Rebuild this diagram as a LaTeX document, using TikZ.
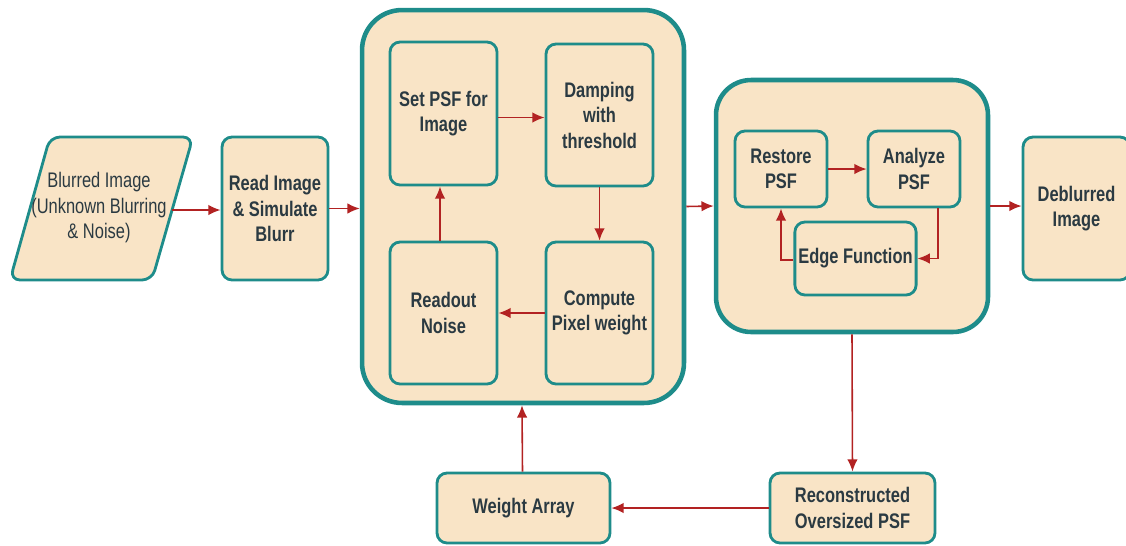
\documentclass[tikz,border=0pt]{standalone}
\usepackage{fontspec}
\setmainfont{Liberation Sans}[FakeStretch=0.78]
\usetikzlibrary{arrows.meta}
\definecolor{boxfill}{HTML}{F9E4C6}
\definecolor{boxline}{HTML}{1E8C8A}
\definecolor{arrowred}{HTML}{B22222}
\definecolor{txt}{HTML}{2B3A42}

\tikzset{
  box/.style={draw=boxline,fill=boxfill,line width=1.6pt,rounded corners=0.2cm,
    align=center,text=txt,font=\fontsize{12}{14.5}\selectfont\bfseries,inner sep=2pt},
  bigbox/.style={draw=boxline,fill=boxfill,line width=2.6pt},
  flow/.style={draw=arrowred,line width=0.9pt,-{Latex[length=7pt,width=6pt]}}
}

\begin{document}
\begin{tikzpicture}[x=0.02cm,y=-0.02cm]
  \useasboundingbox (0,0) rectangle (1126,545);
  % input parallelogram
  \draw[box] (10,280)--(50,137)--(193,137)--(152,280)--cycle;
  \node[text=txt,align=center,font=\fontsize{12}{14.5}\selectfont] (blurred) at (99,208)
    {Blurred Image\\(Unknown Blurring\\\& Noise)};
  \coordinate (blurredR) at (172,210);
  \node[box,minimum width=2.12cm,minimum height=2.86cm] (read) at (275,208.5)
    {Read Image\\\& Simulate\\Blurr};
  % first stage
  \node[bigbox,rounded corners=0.8cm,minimum width=6.44cm,minimum height=7.86cm] (stageA) at (523,206.5) {};
  \node[box,minimum width=2.14cm,minimum height=2.86cm] (setpsf) at (443.5,113.5) {Set PSF for\\Image};
  \node[box,minimum width=2.14cm,minimum height=2.84cm] (damp) at (599.5,115) {Damping\\with\\threshold};
  \node[box,minimum width=2.14cm,minimum height=2.84cm] (readout) at (443.5,313) {Readout\\Noise};
  \node[box,minimum width=2.14cm,minimum height=2.84cm] (pixw) at (599.5,313) {Compute\\Pixel weight};
  % second stage
  \node[bigbox,rounded corners=0.7cm,minimum width=5.44cm,minimum height=5.04cm] (stageB) at (852,206) {};
  \node[box,minimum width=1.84cm,minimum height=1.52cm] (restore) at (781,169) {Restore\\PSF};
  \node[box,minimum width=1.84cm,minimum height=1.52cm] (analyze) at (914,169) {Analyze\\PSF};
  \node[box,minimum width=2.3cm,minimum height=1.46cm] (edge) at (855.5,258.5) {Edge Function};
  \node[box,minimum width=2.14cm,minimum height=2.86cm] (deblur) at (1076.5,208.5) {Deblurred\\Image};
  % bottom row
  \node[box,minimum width=3.3cm,minimum height=1.4cm] (recon) at (852.5,508) {Reconstructed\\Oversized PSF};
  \node[box,minimum width=3.46cm,minimum height=1.4cm] (weight) at (523.5,508) {Weight Array};

  \draw[flow] (blurredR) -- (read.west|-blurredR);
  \draw[flow] (read.east) -- (stageA.west|-read.east);
  \draw[flow] (setpsf.east) ++(0,4) coordinate (a1) -- (damp.west|-a1);
  \draw[flow] (damp.south) -- (pixw.north);
  \draw[flow] (pixw.west) -- (readout.east);
  \draw[flow] ([xshift=-0.07cm]readout.north) -- ([xshift=-0.07cm]setpsf.south);
  \draw[flow] (stageA.east) -- (stageB.west);
  \draw[flow] (restore.east) -- (analyze.west|-restore.east);
  \draw[flow] ([xshift=0.48cm]analyze.south) |- (edge.east);
  \draw[flow] ([yshift=-0.03cm]edge.west) -| (restore.south);
  \draw[flow] (stageB.east) -- (deblur.west|-stageB.east);
  \draw[flow] (stageB.south) -- (recon.north);
  \draw[flow] (recon.west) -- (weight.east);
  \draw[flow] ([xshift=-0.02cm]weight.north) -- ([xshift=-0.02cm]stageA.south);
\end{tikzpicture}
\end{document}
